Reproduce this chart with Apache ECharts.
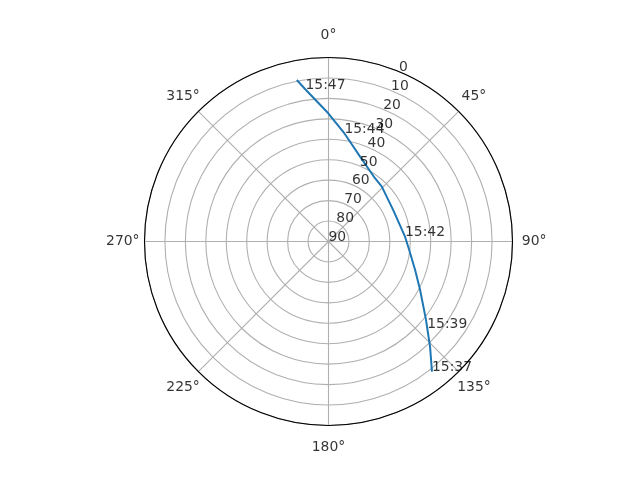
<!DOCTYPE html>
<html>
<head>
<meta charset="utf-8">
<script src="https://cdn.jsdelivr.net/npm/echarts@6/dist/echarts.min.js"></script>
<style>
html,body{margin:0;padding:0;background:#fff;}
#chart{width:640px;height:480px;}
</style>
</head>
<body>
<div id="chart"></div>
<script>
// Satellite pass: azimuth (deg, clockwise from north) and elevation (deg), in time order
const azimuth   = [141.5, 136.0, 131.3, 128.8, 117.9, 108.2, 96.0, 86.4, 64.1, 44.2, 36.3, 20.4, 9.85, 8.4, 359.9, 351.4, 348.9];
const elevation = [8.7,   18.5,  25.7,  28.8,  39.3,  45.4,  50.3, 52.5, 54.8, 52.6, 51.6, 45.7, 38.0, 36.6, 27.3,  14.8,  9.5];

// Time annotations
const timeLabels    = ['15:37', '15:39', '15:42', '15:44', '15:47'];
const timeAzimuth   = [141.5, 131.3, 86.4, 8.4, 351.4];
const timeElevation = [8.7,   25.7,  52.5, 36.6, 14.8];

// Radial tick labels (elevation), drawn at 22.5 deg
const radialTicks = [0, 10, 20, 30, 40, 50, 60, 70, 80, 90];
const radialLabelAngle = 22.5;

// Angular tick labels (azimuth)
const angleTicks = [0, 45, 90, 135, 180, 225, 270, 315];
const angleLabelRadius = -10.6; // just outside the 0 ring (axis is inverted)

const FONT = 'DejaVu Sans';
const FS = 13.9;

const chart = echarts.init(document.getElementById('chart'), null, {renderer: 'canvas'});
chart.setOption({
  animation: false,
  backgroundColor: '#ffffff',
  polar: { center: [328.5, 241.5], radius: 184 },
  angleAxis: {
    type: 'value', min: 0, max: 360, interval: 45,
    startAngle: 90, clockwise: true,
    axisLine: { show: true, lineStyle: { color: '#000', width: 1.1 } },
    axisTick: { show: false },
    axisLabel: { show: false },
    splitLine: { show: true, lineStyle: { color: '#b0b0b0', width: 1.1 } }
  },
  radiusAxis: {
    type: 'value', min: 0, max: 90, interval: 10, inverse: true,
    axisLine: { show: false }, axisTick: { show: false }, axisLabel: { show: false },
    splitLine: { show: true, lineStyle: { color: '#b0b0b0', width: 1.1 } }
  },
  series: [
    {
      type: 'line', coordinateSystem: 'polar',
      data: elevation.map((e, i) => [e, azimuth[i]]),
      showSymbol: false, symbol: 'none',
      lineStyle: { color: '#1f77b4', width: 2 },
      z: 5
    },
    {
      type: 'scatter', coordinateSystem: 'polar',
      data: timeElevation.map((e, i) => ({ value: [e, timeAzimuth[i]], name: timeLabels[i] })),
      symbolSize: 0,
      label: {
        show: true, formatter: p => p.name, position: [0, 0], align: 'left', verticalAlign: 'bottom',
        offset: [0, 3], color: '#000', fontFamily: FONT, fontSize: FS
      },
      z: 6
    },
    {
      type: 'scatter', coordinateSystem: 'polar',
      data: radialTicks.map(r => ({ value: [r, radialLabelAngle], name: String(r) })),
      symbolSize: 0,
      label: {
        show: true, formatter: p => p.name, position: [0, 0], align: 'left', verticalAlign: 'bottom',
        offset: [0, 3], color: '#000', fontFamily: FONT, fontSize: FS
      },
      z: 6
    },
    {
      type: 'scatter', coordinateSystem: 'polar', clip: false,
      data: angleTicks.map(a => ({ value: [angleLabelRadius, a], name: a + '°' })),
      symbolSize: 0,
      label: {
        show: true, formatter: p => p.name, position: [0, 0], align: 'center', verticalAlign: 'middle',
        color: '#000', fontFamily: FONT, fontSize: FS
      },
      z: 6
    }
  ]
});
</script>
</body>
</html>
